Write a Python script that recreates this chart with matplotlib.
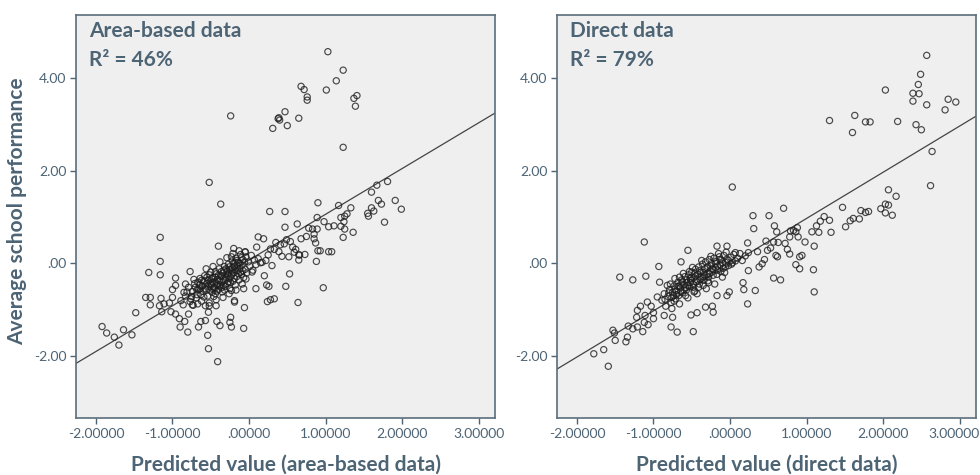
import numpy as np
import matplotlib.pyplot as plt
from matplotlib.transforms import ScaledTranslation

# colours / fonts
TXT = '#4d6475'
BG = '#efefef'
plt.rcParams['font.family'] = ['Lato', 'DejaVu Sans']

# --- area-based data (left panel): spread-out points ---
area_x = [1.03, 1.23, 1.14, 1.01, 0.68, 0.72, 0.76, 0.76, 1.37, 1.41, 1.39, 0.47, 0.39, 0.40, 0.38,
          0.65, 0.50, 0.31, -0.24, 1.23, -0.52, -0.37, -1.16, -1.16, -1.16, -1.31, -0.40,
          1.81, 1.67, 1.60, 1.91, 1.99, 1.69, 1.73, 1.60, 1.55, 1.56, 1.63, 1.77, 0.90, 1.33,
          1.17, 1.28, 1.25, 1.20, 1.24, 1.36, 1.23, 1.25, 1.20, 1.11, 1.04, 0.98, 0.89, 0.89,
          0.83, 0.78, 0.85, 0.85, 0.87, 0.75, 0.68, 0.63, 0.47, 0.27, 0.47, 0.12, 0.19, 0.10,
          0.35, 0.41, 0.46, 0.49, 0.54, 0.57, 0.61, 0.59, 0.65, 0.73, 0.52, 0.43, 0.39, 0.33,
          0.28, 0.90, 0.93, 1.04, 1.08, 0.88, 0.65, 0.66, 0.97, 0.53, 0.48, 0.64, 0.30, 0.33,
          0.28, 0.24, 0.09, 0.23, 0.26, 0.20, 0.17, 0.22, 0.25,
          -1.92, -1.86, -1.76, -1.70, -1.64, -1.53, -1.48, -1.35, -1.29, -1.29, -1.15, -1.17,
          -1.14, -1.11, -1.04, -1.00, -1.00, -0.96, -0.96, -1.02, -0.96, -0.91, -0.90, -0.84,
          -0.80, -0.79, -0.89, -0.85, -0.83, -0.77, -0.76, -0.74, -0.67, -0.66, -0.63, -0.57,
          -0.54, -0.53, -0.41, -0.57, -0.52, -0.43, -0.53, -0.42, -0.38, -0.24, -0.25, -0.23,
          -0.19, -0.19, -0.07, -0.06, -0.23, -0.07, -0.04, 0.04, -0.05, -0.20]
area_y = [4.58, 4.18, 3.95, 3.75, 3.83, 3.76, 3.60, 3.53, 3.57, 3.63, 3.40, 3.28, 3.15, 3.10, 3.13,
          3.14, 2.98, 2.92, 3.19, 2.51, 1.75, 1.28, 0.56, 0.04, -0.25, -0.20, 0.37,
          1.77, 1.69, 1.54, 1.36, 1.17, 1.36, 1.28, 1.20, 1.08, 1.02, 1.13, 0.89, 1.31, 1.20,
          1.25, 1.07, 1.02, 0.99, 0.90, 0.67, 0.56, 0.74, 0.80, 0.81, 0.79, 0.90, 0.99, 0.74,
          0.74, 0.76, 0.63, 0.53, 0.44, 0.58, 0.53, 0.85, 0.78, 1.12, 1.12, 0.57, 0.53, 0.35,
          0.45, 0.40, 0.42, 0.51, 0.47, 0.35, 0.30, 0.24, 0.18, 0.19, 0.14, 0.15, 0.25, 0.30,
          0.31, 0.27, 0.27, 0.25, 0.25, 0.04, 0.07, 0.18, -0.53, -0.23, -0.50, -0.85, -0.05, -0.77,
          -0.79, -0.83, -0.55, -0.47, -0.50, -0.27, 0.02, 0.06, 0.18,
          -1.37, -1.51, -1.60, -1.77, -1.44, -1.55, -1.07, -0.74, -0.74, -0.90, -0.76, -0.92,
          -1.05, -0.88, -0.86, -0.74, -0.57, -0.32, -0.48, -1.05, -1.10, -1.20, -1.38, -1.26,
          -1.49, -1.10, -0.81, -0.63, -0.45, -0.18, -0.77, -0.90, -0.88, -1.38, -1.26, -1.24,
          -1.56, -1.85, -2.13, -0.92, -0.92, -0.92, -1.06, -1.26, -1.35, -1.17, -1.28, -1.38,
          -0.81, -0.84, -1.41, -0.96, -0.59, -0.55, -0.34, -0.19, 0.24, 0.32]

# area-based: dense core
area_core_x = [-0.83, -0.79, -0.77, -0.74, -0.71, -0.69, -0.66, -0.64, -0.63, -0.61, -0.60, -0.58,
               -0.57, -0.55, -0.54, -0.53, -0.51, -0.50, -0.49, -0.48, -0.47, -0.46, -0.45, -0.44,
               -0.43, -0.42, -0.41, -0.40, -0.39, -0.38, -0.37, -0.36, -0.35, -0.34, -0.33, -0.32,
               -0.31, -0.30, -0.29, -0.28, -0.27, -0.26, -0.25, -0.24, -0.23, -0.22, -0.21, -0.20,
               -0.19, -0.18, -0.17, -0.16, -0.15, -0.14, -0.13, -0.12, -0.11, -0.10, -0.09, -0.08,
               -0.07, -0.05, -0.04, -0.03, -0.01, 0.01, 0.03, 0.05, 0.07, 0.09, 0.12, 0.15,
               -0.86, -0.81, -0.73, -0.67, -0.62, -0.56, -0.52, -0.47, -0.43, -0.38, -0.34, -0.29,
               -0.26, -0.21, -0.17, -0.13, -0.09, -0.05, -0.58, -0.52, -0.48, -0.44, -0.40, -0.36,
               -0.31, -0.27, -0.24, -0.19, -0.15, -0.11, -0.62, -0.68, -0.45, -0.33, -0.22,
               -0.70, -0.65, -0.60, -0.56, -0.53, -0.50, -0.47, -0.44, -0.42, -0.39, -0.37, -0.35,
               -0.33, -0.30, -0.28, -0.26, -0.24, -0.22, -0.20, -0.18, -0.16, -0.14, -0.12, -0.10,
               -0.08, -0.06, -0.75, -0.72, -0.68, -0.64, -0.59, -0.55, -0.49, -0.46, -0.41, -0.36,
               -0.32, -0.27, -0.23, -0.18]
area_core_y = [-0.71, -0.52, -0.83, -0.61, -0.44, -0.75, -0.57, -0.33, -0.68, -0.49, -0.61, -0.27,
               -0.55, -0.44, -0.71, -0.36, -0.58, -0.19, -0.47, -0.63, -0.31, -0.52, -0.40, -0.66,
               -0.23, -0.45, -0.35, -0.57, -0.12, -0.49, -0.28, -0.41, -0.62, -0.21, -0.37, -0.07,
               -0.50, -0.30, -0.17, -0.44, -0.02, -0.33, -0.55, -0.14, -0.25, 0.05, -0.39, -0.21,
               -0.08, -0.47, 0.11, -0.29, -0.16, 0.02, -0.36, -0.11, 0.19, -0.24, -0.04, 0.08,
               -0.31, -0.13, 0.14, -0.21, 0.03, -0.06, 0.17, -0.15, 0.07, -0.03, 0.10, 0.01,
               -0.90, -0.62, -0.91, -0.41, -0.82, -0.12, -0.86, -0.07, -0.79, 0.03, -0.74, 0.12,
               -0.66, 0.21, -0.58, 0.27, -0.45, 0.25, -0.38, -0.25, -0.41, -0.18, -0.26, -0.53,
               -0.35, -0.22, -0.42, -0.33, -0.05, -0.19, -0.37, -0.58, -0.55, -0.15, -0.10,
               -0.52, -0.47, -0.40, -0.58, -0.50, -0.44, -0.56, -0.30, -0.60, -0.38, -0.47, -0.27,
               -0.48, -0.12, -0.26, -0.08, -0.30, -0.16, 0.00, -0.14, 0.06, -0.22, 0.00, 0.12,
               -0.16, 0.03, -0.72, -0.35, -0.68, -0.55, -0.73, -0.30, -0.33, -0.72, -0.48, -0.18,
               -0.58, -0.40, 0.14, 0.02]

# --- direct data (right panel): spread-out points ---
direct_x = [2.57, 2.49, 2.46, 2.39, 2.47, 2.39, 2.57, 2.03, 2.85, 2.95, 2.81, 1.30, 1.63, 1.60,
            1.77, 1.83, 2.19, 2.43, 2.50, 2.64, 2.62, 0.03, 2.07, 2.17, 2.03, 2.07, 1.97, 2.03,
            2.12, 1.47, 1.71, 1.77, 1.81, 1.69, 1.61, 1.57, 1.51, 1.23, 1.30, 1.18, 1.32, 1.16,
            1.07, 1.13, 0.98, 1.10, 0.70, 0.30, 0.51, 0.31, 0.58, 0.61, 0.79, 0.83, 0.86, 0.88,
            0.78, 0.89, 0.72, 0.75, 0.78, 0.91, 0.94, 0.86, 0.91, 1.09, 1.10, 0.57, 0.66, 0.33,
            0.23, 0.18, 0.17, 0.24, 0.45, 0.47, 0.57, 0.63, 0.60, 0.62, 0.23, 0.36, 0.38, 0.42,
            0.49, 0.53,
            -1.78, -1.65, -1.59, -1.53, -1.51, -1.50, -1.36, -1.34, -1.33, -1.27, -1.21, -1.14,
            -1.22, -1.21, -1.17, -1.12, -1.11, -1.07, -1.00, -1.08, -1.03, -1.00, -0.95, -0.92,
            -0.86, -0.77, -0.69, -0.75, -0.51, -0.48, -0.43, -0.32, -0.23, -0.22, -0.17, -0.04,
            -0.01, -1.12, -1.44, -1.27, -1.10, -0.93, -0.55, -0.64, -0.17, -0.04, 0.07]
direct_y = [4.50, 4.09, 3.87, 3.68, 3.67, 3.51, 3.43, 3.75, 3.55, 3.49, 3.32, 3.09, 3.20, 2.83,
            3.06, 3.06, 3.07, 3.00, 2.89, 2.42, 1.68, 1.65, 1.59, 1.45, 1.28, 1.26, 1.18, 1.09,
            1.04, 1.21, 1.14, 1.10, 1.12, 0.96, 0.97, 0.92, 0.79, 1.01, 0.93, 0.91, 0.67, 0.67,
            0.68, 0.81, 0.46, 0.37, 1.19, 1.03, 1.03, 0.75, 0.81, 0.68, 0.70, 0.71, 0.68, 0.77,
            0.57, 0.57, 0.43, 0.30, 0.20, 0.14, 0.17, -0.03, -0.12, -0.14, -0.62, -0.32, -0.36,
            -0.59, -0.88, -0.57, -0.42, -0.16, 0.08, 0.48, 0.46, 0.45, 0.17, 0.14, 0.44, 0.25,
            -0.08, -0.01, 0.28, 0.33,
            -1.96, -1.87, -2.23, -1.45, -1.51, -1.67, -1.70, -1.60, -1.36, -1.42, -1.38, -1.48,
            -1.17, -1.02, -0.93, -1.28, -1.13, -1.33, -1.20, -0.84, -0.93, -1.07, -0.73, -0.41,
            -1.13, -1.38, -1.49, -1.17, -1.12, -1.48, -1.07, -0.95, -0.93, -1.06, -0.70, -0.70,
            -0.62, 0.46, -0.30, -0.36, -0.28, -0.07, 0.28, 0.03, 0.37, 0.37, 0.23]

# direct: dense core
direct_core_x = [-0.89, -0.86, -0.84, -0.81, -0.79, -0.77, -0.75, -0.73, -0.71, -0.70, -0.68, -0.67,
                 -0.65, -0.63, -0.62, -0.60, -0.59, -0.57, -0.56, -0.54, -0.53, -0.51, -0.50, -0.48,
                 -0.47, -0.45, -0.44, -0.42, -0.41, -0.39, -0.38, -0.36, -0.35, -0.33, -0.32, -0.30,
                 -0.29, -0.27, -0.26, -0.24, -0.22, -0.21, -0.19, -0.18, -0.16, -0.14, -0.13, -0.11,
                 -0.09, -0.08, -0.06, -0.04, -0.02, 0.01, 0.03, 0.05, 0.07, 0.10, 0.13, 0.16,
                 0.20, 0.24,
                 -0.82, -0.76, -0.72, -0.66, -0.61, -0.55, -0.49, -0.43, -0.37, -0.31, -0.25, -0.20,
                 -0.15, -0.10, -0.05, -0.64, -0.58, -0.52, -0.46, -0.40, -0.34, -0.28, -0.23, -0.17,
                 -0.12, -0.07, -0.69, -0.74, -0.46, -0.28,
                 -0.80, -0.76, -0.72, -0.70, -0.67, -0.64, -0.62, -0.60, -0.57, -0.55, -0.52, -0.50,
                 -0.48, -0.45, -0.43, -0.40, -0.38, -0.35, -0.33, -0.30, -0.27, -0.25, -0.22, -0.19,
                 -0.16, -0.13, -0.10, -0.06, -0.02, 0.02, -0.85, -0.78, -0.73, -0.66, -0.58, -0.53,
                 -0.47, -0.41, -0.35, -0.29]
direct_core_y = [-0.80, -0.66, -0.93, -0.72, -0.57, -0.85, -0.63, -0.49, -0.77, -0.60, -0.41, -0.70,
                 -0.53, -0.36, -0.64, -0.47, -0.29, -0.58, -0.42, -0.25, -0.51, -0.37, -0.19, -0.46,
                 -0.31, -0.13, -0.40, -0.24, -0.08, -0.35, -0.19, -0.02, -0.29, -0.12, 0.03, -0.23,
                 -0.07, 0.08, -0.17, -0.01, -0.26, 0.11, -0.09, 0.04, -0.15, 0.14, -0.03, 0.07,
                 -0.11, 0.17, 0.02, 0.09, -0.05, 0.13, 0.01, 0.19, 0.05, 0.11, 0.21, 0.06,
                 0.16, 0.23,
                 -0.48, -0.98, -0.33, -0.88, -0.22, -0.75, -0.09, -0.66, 0.06, -0.55, 0.15, -0.45,
                 0.21, -0.30, 0.24, -0.45, -0.52, -0.33, -0.22, -0.45, -0.37, -0.30, -0.12, -0.24,
                 -0.18, -0.20, -0.50, -0.70, -0.60, -0.42,
                 -0.64, -0.74, -0.56, -0.68, -0.50, -0.62, -0.40, -0.58, -0.36, -0.48, -0.42, -0.30,
                 -0.52, -0.28, -0.36, -0.16, -0.30, -0.20, -0.26, -0.10, -0.22, -0.06, -0.14, 0.00,
                 -0.06, 0.08, 0.00, -0.08, 0.06, -0.02, -0.78, -0.45, -0.82, -0.30, -0.70, -0.18,
                 -0.62, -0.52, -0.48, -0.38]

# fit lines
area_fit = (0.99, 0.07)     # slope, intercept
direct_fit = (1.00, -0.03)

panels = [
    (area_x + area_core_x, area_y + area_core_y, area_fit,
     'Area-based data', '46%', 'Predicted value (area-based data)'),
    (direct_x + direct_core_x, direct_y + direct_core_y, direct_fit,
     'Direct data', '79%', 'Predicted value (direct data)'),
]
x_ticks = [-2, -1, 0, 1, 2, 3]
x_labels = ['-2.00000', '-1.00000', '.00000', '1.00000', '2.00000', '3.00000']
y_ticks = [-2, 0, 2, 4]
y_labels = ['-2.00', '.00', '2.00', '4.00']

fig = plt.figure(figsize=(9.8, 4.75), dpi=100)
lefts = [0.0776, 0.5684]
ax_w = 0.428

for i, (xs, ys, fit, title, r2, xlabel) in enumerate(panels):
    ax = fig.add_axes([lefts[i], 0.12, ax_w, 0.848])
    ax.set_facecolor(BG)
    ax.set_xlim(-2.26, 3.22)
    ax.set_ylim(-3.35, 5.37)

    ax.scatter(xs, ys, s=20, facecolors='none', edgecolors='#1e1e1e',
               linewidths=0.85, alpha=0.8, zorder=3)
    xx = np.array([-2.26, 3.22])
    ax.plot(xx, fit[0] * xx + fit[1], color='#444444', lw=0.9, zorder=2)

    ax.set_xticks(x_ticks)
    ax.set_xticklabels(x_labels)
    ax.set_yticks(y_ticks)
    ax.set_yticklabels(y_labels)
    ax.tick_params(colors=TXT, labelsize=10, length=4, direction='out', width=1, pad=3)
    for sp in ax.spines.values():
        sp.set_color('#5a6e7c')
        sp.set_linewidth(1.2)
    if i == 1:
        # last label sits at the figure edge; nudge it in a little
        lab = ax.get_xticklabels()[-1]
        lab.set_transform(lab.get_transform() + ScaledTranslation(-6 / 100, 0, fig.dpi_scale_trans))

    fig.text(lefts[i] + ax_w / 2, 0.022, xlabel, fontsize=15, fontweight='bold',
             color=TXT, ha='center', va='center')

    ax.text(0.031, 0.96, title, transform=ax.transAxes, fontsize=15, fontweight='bold',
            color=TXT, va='center')
    ax.text(0.031, 0.888, 'R² = ' + r2, transform=ax.transAxes, fontsize=15,
            fontweight='bold', color=TXT, va='center')

fig.text(17 / 980, 0.556, 'Average school performance', fontsize=15, fontweight='bold',
         color=TXT, rotation=90, ha='center', va='center')

fig.savefig('out.png', dpi=100)
